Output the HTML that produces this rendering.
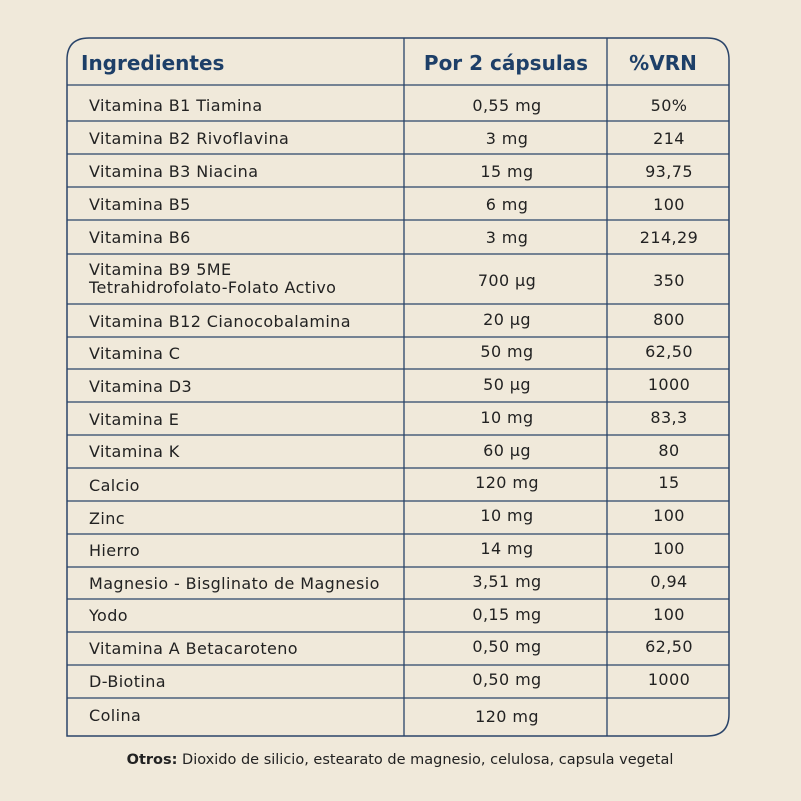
<!DOCTYPE html>
<html><head><meta charset="utf-8"><style>
html,body{margin:0;padding:0;background:#f0e9da;}
svg{display:block}
text{font-family:"DejaVu Sans","Liberation Sans",sans-serif;}
</style></head><body>
<svg width="801" height="801" viewBox="0 0 801 801" xmlns="http://www.w3.org/2000/svg">
<rect width="801" height="801" fill="#f0e9da"/>
<path d="M67,736 L67,60 Q67,38 89,38 L707,38 Q729,38 729,60 L729,714 Q729,736 707,736 Z" fill="none" stroke="#2a4469" stroke-width="1.5"/>
<g stroke="#2a4469" stroke-width="1.3">
<line x1="404" y1="38" x2="404" y2="736"/><line x1="607" y1="38" x2="607" y2="736"/>
<line x1="67" y1="85" x2="729" y2="85"/>
<line x1="67" y1="121" x2="729" y2="121"/><line x1="67" y1="154" x2="729" y2="154"/>
<line x1="67" y1="187" x2="729" y2="187"/><line x1="67" y1="220" x2="729" y2="220"/>
<line x1="67" y1="254" x2="729" y2="254"/><line x1="67" y1="304" x2="729" y2="304"/>
<line x1="67" y1="337" x2="729" y2="337"/><line x1="67" y1="369" x2="729" y2="369"/>
<line x1="67" y1="402" x2="729" y2="402"/><line x1="67" y1="435" x2="729" y2="435"/>
<line x1="67" y1="468" x2="729" y2="468"/><line x1="67" y1="501" x2="729" y2="501"/>
<line x1="67" y1="534" x2="729" y2="534"/><line x1="67" y1="567" x2="729" y2="567"/>
<line x1="67" y1="599" x2="729" y2="599"/><line x1="67" y1="632" x2="729" y2="632"/>
<line x1="67" y1="665" x2="729" y2="665"/><line x1="67" y1="698" x2="729" y2="698"/>
</g>
<g fill="#1d3f68" font-weight="bold" font-size="20">
<text x="81" y="70">Ingredientes</text>
<text x="506" y="70" text-anchor="middle">Por 2 cápsulas</text>
<text x="663" y="70" text-anchor="middle">%VRN</text>
</g>
<g fill="#222" font-size="16" letter-spacing="0.4">
<text x="89" y="111">Vitamina B1 Tiamina</text>
<text x="89" y="144">Vitamina B2 Rivoflavina</text>
<text x="89" y="177">Vitamina B3 Niacina</text>
<text x="89" y="210">Vitamina B5</text>
<text x="89" y="243">Vitamina B6</text>
<text x="89" y="275">Vitamina B9 5ME</text>
<text x="89" y="293">Tetrahidrofolato-Folato Activo</text>
<text x="89" y="327">Vitamina B12 Cianocobalamina</text>
<text x="89" y="359">Vitamina C</text>
<text x="89" y="392">Vitamina D3</text>
<text x="89" y="425">Vitamina E</text>
<text x="89" y="457">Vitamina K</text>
<text x="89" y="491">Calcio</text>
<text x="89" y="524">Zinc</text>
<text x="89" y="556">Hierro</text>
<text x="89" y="589">Magnesio - Bisglinato de Magnesio</text>
<text x="89" y="621">Yodo</text>
<text x="89" y="654">Vitamina A Betacaroteno</text>
<text x="89" y="687">D-Biotina</text>
<text x="89" y="721">Colina</text>
</g>
<g fill="#222" font-size="16" text-anchor="middle" letter-spacing="0.4">
<text x="507" y="111">0,55 mg</text><text x="669" y="111">50%</text>
<text x="507" y="144">3 mg</text><text x="669" y="144">214</text>
<text x="507" y="177">15 mg</text><text x="669" y="177">93,75</text>
<text x="507" y="210">6 mg</text><text x="669" y="210">100</text>
<text x="507" y="243">3 mg</text><text x="669" y="243">214,29</text>
<text x="507" y="286">700 µg</text><text x="669" y="286">350</text>
<text x="507" y="325">20 µg</text><text x="669" y="325">800</text>
<text x="507" y="357">50 mg</text><text x="669" y="357">62,50</text>
<text x="507" y="390">50 µg</text><text x="669" y="390">1000</text>
<text x="507" y="423">10 mg</text><text x="669" y="423">83,3</text>
<text x="507" y="456">60 µg</text><text x="669" y="456">80</text>
<text x="507" y="488">120 mg</text><text x="669" y="488">15</text>
<text x="507" y="521">10 mg</text><text x="669" y="521">100</text>
<text x="507" y="554">14 mg</text><text x="669" y="554">100</text>
<text x="507" y="587">3,51 mg</text><text x="669" y="587">0,94</text>
<text x="507" y="620">0,15 mg</text><text x="669" y="620">100</text>
<text x="507" y="652">0,50 mg</text><text x="669" y="652">62,50</text>
<text x="507" y="685">0,50 mg</text><text x="669" y="685">1000</text>
<text x="507" y="722">120 mg</text>
</g>
<text x="400" y="764" text-anchor="middle" font-size="14.5" fill="#222"><tspan font-weight="bold">Otros:</tspan> Dioxido de silicio, estearato de magnesio, celulosa, capsula vegetal</text>
</svg>
</body></html>
